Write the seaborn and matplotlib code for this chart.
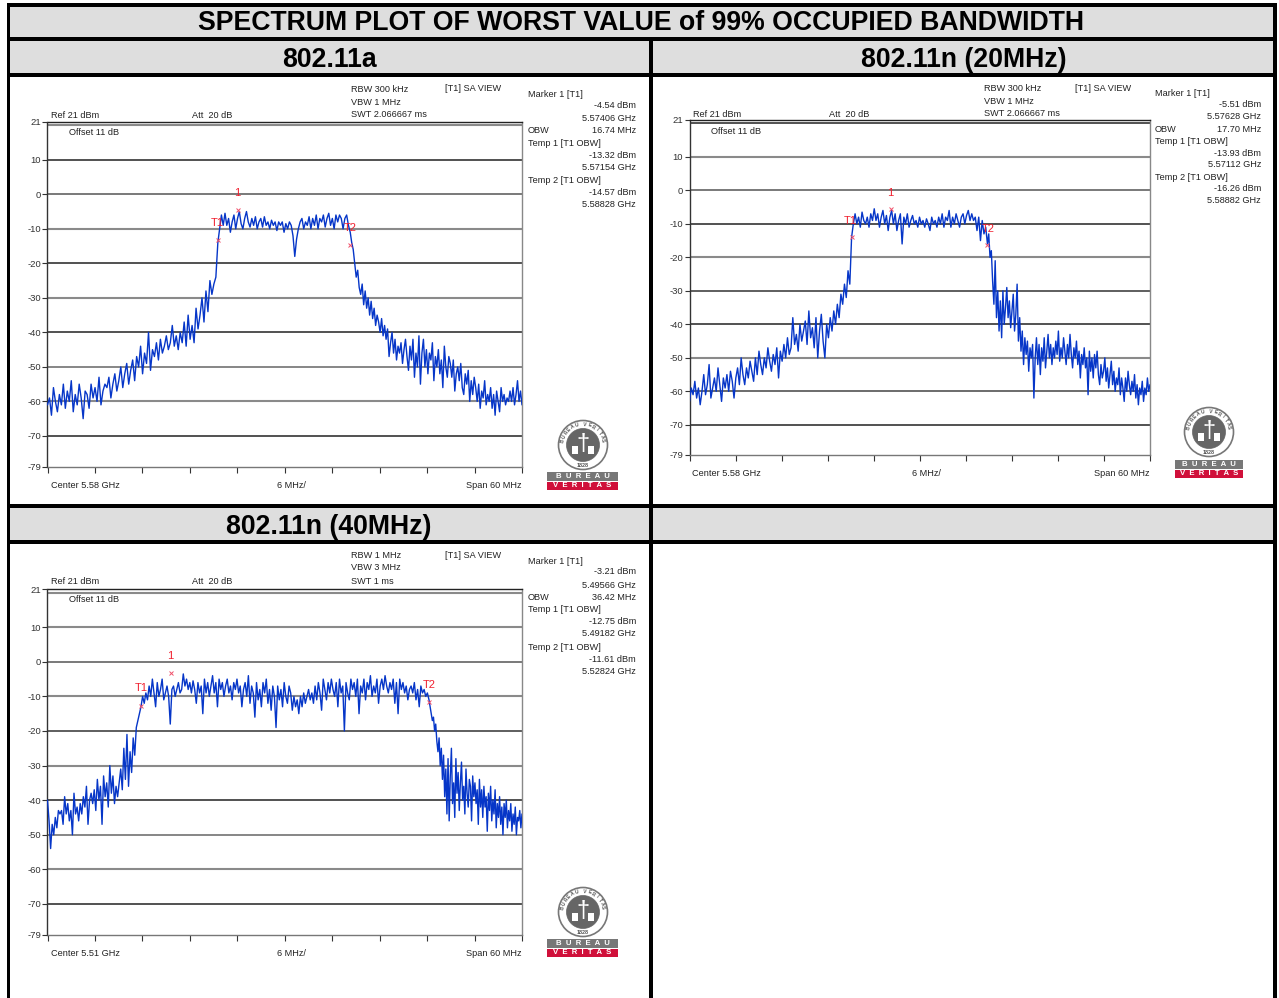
import numpy as np
import pandas as pd
import matplotlib
matplotlib.use('Agg')
import matplotlib.pyplot as plt
from matplotlib.patches import Ellipse, Rectangle
import seaborn as sns

W, H = 1279, 998
sns.set_theme(style='white')
plt.rcParams['font.family'] = ['Liberation Sans', 'DejaVu Sans']
plt.rcParams['axes.unicode_minus'] = False

title = 'SPECTRUM PLOT OF WORST VALUE of 99% OCCUPIED BANDWIDTH'
y_ticks = [21, 10, 0, -10, -20, -30, -40, -50, -60, -70, -79]
grid_levels = [20, 10, 0, -10, -20, -30, -40, -50, -60, -70]

# traces are split in three parts: skirt up, flat top, skirt down
a_edges = [-30, -8.46, 8.28, 30]
a_rise = [-61, -59, -64, -56, -60, -63, -58, -61, -55, -62, -57, -60, -54, -63, -58, -61, -55, -59, -65, -57,
          -58, -62, -55, -59, -56, -60, -53, -61, -57, -55, -56, -53, -59, -55, -52, -57, -54, -50, -56, -52,
          -49, -55, -51, -48, -54, -47, -50, -44, -52, -46, -49, -40, -51, -45, -47, -43, -48, -42, -46, -44,
          -41, -45, -43, -38, -44, -41, -45, -40, -43, -37, -44, -35, -42, -38, -43, -33, -39, -35, -30, -37,
          -28, -34, -25, -29, -26, -24, -14]
a_top = [-14, -10, -6, -9, -5.5, -9, -7, -11, -8, -6, -10, -7, -5, -8.5, -10, -7, -5, -8, -9.5, -7, -9,
         -6.5, -10, -8, -7, -9.5, -6.5, -9, -8, -10, -7.5, -9, -8, -10.5, -8, -9, -8, -11, -8.5, -10, -8,
         -9, -12, -18, -13, -10, -8, -7, -10, -8, -9, -6.5, -10, -7, -9, -6, -10, -7, -8, -6, -9.5, -7,
         -5.5, -9, -7, -10, -6, -8, -6, -7, -10, -7, -6, -9, -11]
a_fall = [-11, -14, -16, -20, -24, -22, -27, -29, -26, -32, -28, -33, -30, -35, -31, -36, -33, -38, -35, -37,
          -40, -36, -41, -38, -42, -39, -47, -43, -40, -46, -42, -48, -44, -46, -43, -49, -45, -42, -47, -51,
          -44, -48, -42, -53, -46, -50, -41, -55, -46, -42, -50, -45, -52, -46, -48, -43, -54, -47, -50, -45,
          -52, -48, -56, -44, -50, -53, -47, -49, -53, -48, -57, -52, -50, -54, -49, -56, -58, -52, -55, -51,
          -60, -54, -58, -53, -56, -60, -55, -62, -57, -59, -54, -61, -58, -60, -56, -62, -58, -64, -57, -60,
          -63, -56, -60, -58, -61, -59, -60, -57, -60, -56, -61, -58, -54, -60, -57, -61]

b_edges = [-30, -8.88, 8.82, 30]
b_rise = [-63, -59, -61, -57, -62, -59, -64, -60, -55, -61, -58, -52, -62, -59, -56, -60, -53, -58, -63, -56,
          -59, -55, -60, -54, -57, -62, -56, -53, -58, -50, -55, -58, -53, -56, -51, -54, -57, -50, -55, -48,
          -52, -55, -50, -53, -47, -51, -54, -49, -52, -47, -56, -48, -51, -46, -50, -44, -49, -47, -38, -46,
          -43, -48, -40, -45, -42, -39, -46, -36, -44, -41, -47, -38, -50, -42, -37, -45, -50, -40, -44, -38,
          -42, -36, -40, -34, -38, -31, -34, -28, -32, -24, -28, -14]
b_top = [-14, -10, -7, -10, -8, -11, -6.5, -9, -10, -8, -11, -7, -9, -5.5, -9, -7, -11, -8, -6, -10, -7.5,
         -12, -8, -6, -10, -7, -12, -9, -7, -16, -8, -10, -7, -11, -9, -7.5, -10, -9, -11, -8, -10, -9, -11,
         -8.5, -10, -12, -8, -10, -9, -11, -8, -10, -7, -11, -8, -9, -6, -11, -8, -10, -7, -9, -11, -8, -7,
         -10, -7.5, -6, -9, -7, -9, -8, -12, -8, -15, -9, -13, -11, -16]
b_fall = [-16, -13, -20, -18, -27, -34, -21, -38, -30, -42, -33, -44, -30, -40, -35, -29, -38, -33, -41, -36,
          -31, -42, -37, -28, -45, -38, -48, -42, -52, -44, -49, -45, -54, -47, -50, -46, -62, -50, -44, -52,
          -46, -55, -47, -51, -44, -53, -48, -43, -50, -46, -52, -47, -50, -45, -49, -42, -51, -47, -50, -44,
          -48, -52, -46, -50, -43, -49, -53, -47, -50, -45, -52, -48, -56, -49, -52, -47, -53, -50, -61, -48,
          -54, -50, -56, -49, -53, -48, -55, -58, -52, -56, -54, -50, -57, -53, -59, -55, -51, -58, -54, -60,
          -56, -58, -53, -61, -56, -59, -63, -56, -60, -54, -58, -61, -57, -60, -55, -62, -58, -64, -59, -61,
          -57, -63, -59, -61, -56, -60, -58]

c_edges = [-30, -18.18, 18.24, 30]
c_rise = [-40, -46, -54, -47, -50, -45, -48, -43, -44, -43, -47, -39, -44, -41, -46, -43, -50, -38, -44, -42,
          -46, -41, -44, -39, -42, -36, -47, -40, -38, -41, -37, -43, -34, -40, -36, -47, -33, -39, -35, -42,
          -30, -38, -33, -41, -36, -39, -35, -31, -37, -25, -34, -21, -36, -26, -32, -22, -27, -19, -17, -15, -13]
c_top = [-13, -10, -12, -9, -11, -7, -10, -5, -9, -13, -6, -10, -8, -5, -11, -9, -7, -10, -18, -8, -7, -10, -8,
         -6, -9, -8, -3.5, -7, -5, -8, -6, -9, -5.5, -8, -12, -6, -9, -7, -15, -5, -9, -6, -10, -7, -4, -9, -6,
         -13, -5, -8, -6, -10, -7, -5, -9, -7, -11, -6, -8, -5, -9, -7, -13, -8, -6, -10, -4, -12, -7, -9, -16,
         -6, -11, -8, -13, -6, -9, -5, -12, -8, -14, -7, -10, -19, -7, -11, -8, -13, -6, -10, -12, -7, -9, -14,
         -10, -13, -11, -15, -10, -13, -9, -12, -10, -8, -11, -9, -12, -7, -11, -6, -9, -14, -5, -8, -11, -6, -9,
         -5, -8, -10, -6, -13, -5, -9, -7, -20, -6, -9, -11, -5, -8, -6, -10, -5, -15, -7, -9, -5, -11, -6, -8,
         -4, -10, -7, -9, -5, -12, -7, -5, -8, -4, -7, -9, -6, -8, -5, -12, -6, -15, -5, -8, -6, -9, -7, -11, -8,
         -7, -9, -6, -11, -8, -13, -7, -9, -8, -10, -9, -11]
c_fall = [-11, -13, -15, -17, -16, -20, -18, -23, -26, -22, -30, -25, -34, -27, -39, -31, -44, -28, -46, -33,
          -25, -41, -35, -45, -28, -38, -32, -43, -35, -29, -40, -36, -44, -31, -38, -42, -34, -36, -46, -33,
          -39, -35, -41, -37, -47, -34, -42, -37, -45, -36, -42, -39, -49, -38, -43, -36, -46, -40, -44, -37,
          -48, -41, -45, -39, -47, -42, -50, -41, -45, -40, -48, -43, -46, -41, -49, -44, -47, -42, -50, -45, -46, -43, -48, -44]

a_lines = ['#8a8a8a', '#222222', '#555555', '#8a8a8a', '#222222', '#8a8a8a', '#222222', '#666666', '#8a8a8a', '#222222']
b_lines = ['#222222', '#8a8a8a', '#555555', '#222222', '#8a8a8a', '#333333', '#222222', '#8a8a8a', '#444444', '#222222']
c_lines = ['#8a8a8a', '#8a8a8a', '#555555', '#8a8a8a', '#333333', '#8a8a8a', '#222222', '#666666', '#8a8a8a', '#222222']

panels = [
    dict(box=(47.5, 522, 121.8, 467), edges=a_edges, parts=(a_rise, a_top, a_fall), lines=a_lines,
         marks=[('1', -5.94, -4.54, -1, 193), ('T1', -8.46, -13.32, -1, 223), ('T2', 8.28, -14.57, 0, 228)],
         left=['RBW 300 kHz', 'VBW 1 MHz', 'SWT 2.066667 ms'], sweep=(351, 89, 102, 114), view=(445, 88),
         ref=(51, 192, 115), offset=(69, 132), bottom=(51, 291, 521, 485),
         block=(528, 636, [94, 105, 118, 130, 143, 155, 167, 180, 192, 204]),
         values=['-4.54 dBm', '5.57406 GHz', '16.74 MHz', '-13.32 dBm', '5.57154 GHz', '-14.57 dBm', '5.58828 GHz'],
         center='Center 5.58 GHz', logo=(583, 445, 547, 618, 472)),
    dict(box=(689.5, 1150, 120, 455), edges=b_edges, parts=(b_rise, b_top, b_fall), lines=b_lines,
         marks=[('1', -3.72, -5.51, -1, 193), ('T1', -8.88, -13.93, -1, 221), ('T2', 8.82, -16.26, 1, 229)],
         left=['RBW 300 kHz', 'VBW 1 MHz', 'SWT 2.066667 ms'], sweep=(984, 88, 101, 113), view=(1075, 88),
         ref=(693, 829, 114), offset=(711, 131), bottom=(692, 926, 1149, 473),
         block=(1155, 1261, [93, 104, 116, 129, 141, 153, 164, 177, 188, 200]),
         values=['-5.51 dBm', '5.57628 GHz', '17.70 MHz', '-13.93 dBm', '5.57112 GHz', '-16.26 dBm', '5.58882 GHz'],
         center='Center 5.58 GHz', logo=(1209, 432, 1175, 1243, 460)),
    dict(box=(47.5, 522, 589.2, 935), edges=c_edges, parts=(c_rise, c_top, c_fall), lines=c_lines,
         marks=[('1', -14.34, -3.21, -1, 656), ('T1', -18.18, -12.75, 0, 688), ('T2', 18.24, -11.61, 0, 685)],
         left=['RBW 1 MHz', 'VBW 3 MHz', 'SWT 1 ms'], sweep=(351, 555, 568, 581), view=(445, 555),
         ref=(51, 192, 581), offset=(69, 600), bottom=(51, 291, 521, 953),
         block=(528, 636, [561, 572, 585, 597, 610, 622, 634, 647, 659, 671]),
         values=['-3.21 dBm', '5.49566 GHz', '36.42 MHz', '-12.75 dBm', '5.49182 GHz', '-11.61 dBm', '5.52824 GHz'],
         center='Center 5.51 GHz', logo=(583, 912, 547, 618, 939)),
]

fig = plt.figure(figsize=(W / 100, H / 100), dpi=100)
page = fig.add_axes([0, 0, 1, 1], zorder=0)
page.set_xlim(0, W)
page.set_ylim(H, 0)
page.axis('off')

# table frame
for x0, y0, x1, y1 in [(8, 7, 1273, 37), (8, 41, 650, 73), (653, 41, 1273, 73), (8, 508, 650, 540), (653, 508, 1273, 540)]:
    page.add_patch(Rectangle((x0, y0), x1 - x0, y1 - y0, color='#dedede', lw=0))
for x0, y0, x1, y1 in [(6.5, 3, 10, H), (649, 37, 653, H), (1273, 3, 1277, H), (6.5, 3, 1277, 7), (6.5, 37, 1277, 41),
                       (6.5, 73, 1277, 77), (6.5, 504, 1277, 508), (6.5, 540, 1277, 544)]:
    page.add_patch(Rectangle((x0, y0), x1 - x0, y1 - y0, color='black', lw=0))
page.text(641, 23, title, ha='center', va='center', fontsize=19.15, fontweight='bold', color='black')
page.text(329, 59.5, '802.11a', ha='center', va='center', fontsize=19.15, fontweight='bold', color='black')
page.text(963.5, 59.5, '802.11n (20MHz)', ha='center', va='center', fontsize=19.15, fontweight='bold', color='black')
page.text(329, 526.5, '802.11n (40MHz)', ha='center', va='center', fontsize=19.15, fontweight='bold', color='black')


def small(x, y, s, ha='left'):
    page.text(x, y, s, ha=ha, va='center', fontsize=6.6, color='#222222')


for p in panels:
    x0, x1, y0, y1 = p['box']
    ax = fig.add_axes([x0 / W, 1 - y1 / H, (x1 - x0) / W, (y1 - y0) / H], zorder=2)
    ax.patch.set_alpha(0)
    freq = np.concatenate([np.linspace(p['edges'][i], p['edges'][i + 1], len(p['parts'][i])) for i in range(3)])
    level = np.concatenate(p['parts'])
    table = pd.DataFrame({'freq': freq, 'level': level})
    for g, c in zip(grid_levels, p['lines']):
        ax.axhline(g, color=c, lw=1.5 if c == '#8a8a8a' else 1.1, zorder=1)
    sns.lineplot(data=table, x='freq', y='level', ax=ax, estimator=None, sort=False, color='#0636c8', lw=1.0, zorder=3)
    ax.set_xlim(-30, 30)
    ax.set_ylim(-79, 21)
    ax.set_xlabel('')
    ax.set_ylabel('')
    ax.set_yticks(y_ticks)
    ax.set_xticks(np.arange(-30, 31, 6))
    ax.set_xticklabels([])
    ax.tick_params(axis='y', length=3.6, width=0.8, color='#333333', labelsize=6.8, labelcolor='#333333', left=True, pad=1)
    ax.tick_params(axis='x', length=4.3, width=0.8, color='#333333', bottom=True)
    ax.spines['left'].set_color('#333333')
    ax.spines['top'].set_color('#222222')
    ax.spines['right'].set_color('#888888')
    ax.spines['bottom'].set_color('#777777')
    for sp in ax.spines.values():
        sp.set_linewidth(1.0)

    # markers and their labels, on top of the trace
    for name, f, v, dx, ly in p['marks']:
        ax.plot([f], [v], marker='x', ms=3, mew=0.7, color='#f0506a', zorder=5)
        mx = x0 + (f + 30) / 60 * (x1 - x0)
        ax.text(mx + dx, ly, name, transform=page.transData, ha='center', va='center', fontsize=8, color='#f0202f', zorder=6)

    small(p['sweep'][0], p['sweep'][1], p['left'][0])
    small(p['sweep'][0], p['sweep'][2], p['left'][1])
    small(p['sweep'][0], p['sweep'][3], p['left'][2])
    small(p['view'][0], p['view'][1], '[T1] SA VIEW')
    small(p['ref'][0], p['ref'][2], 'Ref 21 dBm')
    small(p['ref'][1], p['ref'][2], 'Att  20 dB')
    small(p['offset'][0], p['offset'][1], 'Offset 11 dB')
    small(p['bottom'][0], p['bottom'][3], p['center'])
    small(p['bottom'][1], p['bottom'][3], '6 MHz/', ha='center')
    small(p['bottom'][2], p['bottom'][3], 'Span 60 MHz', ha='right')

    bl, br, ys = p['block']
    v = p['values']
    small(bl, ys[0], 'Marker 1 [T1]')
    small(br, ys[1], v[0], ha='right')
    small(br, ys[2], v[1], ha='right')
    small(bl, ys[3], 'OBW')
    small(br, ys[3], v[2], ha='right')
    small(bl, ys[4], 'Temp 1 [T1 OBW]')
    small(br, ys[5], v[3], ha='right')
    small(br, ys[6], v[4], ha='right')
    small(bl, ys[7], 'Temp 2 [T1 OBW]')
    small(br, ys[8], v[5], ha='right')
    small(br, ys[9], v[6], ha='right')

    # Bureau Veritas stamp, ring letters set one by one
    cx, cy, lx0, lx1, ly0 = p['logo']
    page.add_patch(Ellipse((cx, cy), 49, 49, fc='white', ec='#777777', lw=1.2))
    page.add_patch(Ellipse((cx, cy), 33, 33, fc='#666666', ec='#666666', lw=0.5))
    for k, ch in enumerate('BUREAU VERITAS'):
        ang = np.radians(-168 + k * 156 / 13)
        page.text(cx + 20.5 * np.cos(ang), cy + 20.5 * np.sin(ang), ch, ha='center', va='center', fontsize=3.6,
                  fontweight='bold', color='#555555', rotation=-np.degrees(ang) - 90, rotation_mode='anchor')
    page.text(cx, cy - 1, '\u2020', ha='center', va='center', fontsize=17, color='white')
    page.add_patch(Rectangle((cx - 11, cy + 1), 6, 8, color='white', lw=0))
    page.add_patch(Rectangle((cx + 5, cy + 1), 6, 8, color='white', lw=0))
    page.text(cx, cy + 20.5, '1828', ha='center', va='center', fontsize=4, fontweight='bold', color='#555555')
    page.add_patch(Rectangle((lx0, ly0), lx1 - lx0, 9, color='#777777', lw=0))
    page.add_patch(Rectangle((lx0, ly0 + 9.5), lx1 - lx0, 8.5, color='#d0103a', lw=0))
    bar_mid = (lx0 + lx1) / 2
    page.text(bar_mid, ly0 + 4.6, 'B  U  R  E  A  U', ha='center', va='center', fontsize=5.6, fontweight='bold', color='white')
    page.text(bar_mid, ly0 + 13.8, 'V  E  R  I  T  A  S', ha='center', va='center', fontsize=5.6, fontweight='bold', color='white')

fig.savefig('out.png', dpi=100)
